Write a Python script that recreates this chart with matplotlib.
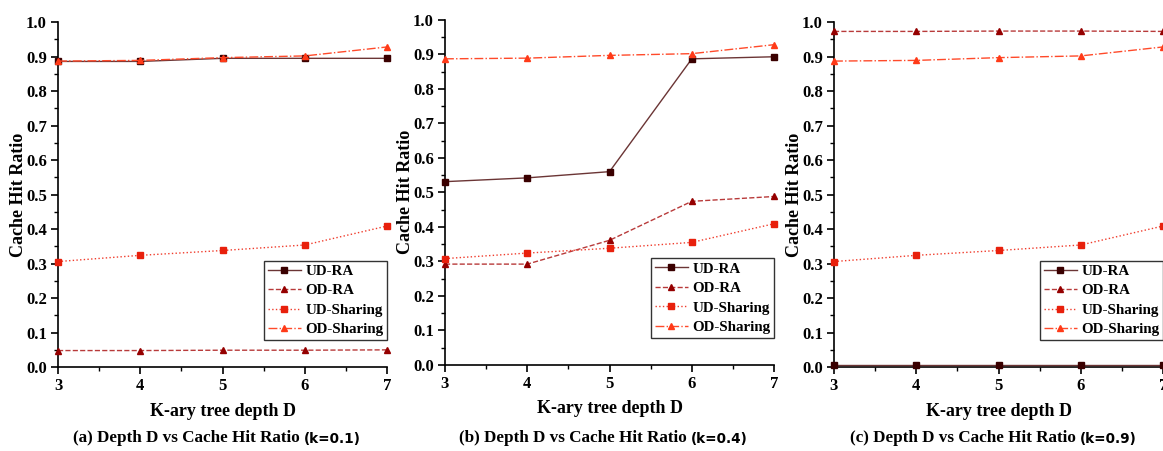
import matplotlib
matplotlib.use('Agg')
import matplotlib.pyplot as plt
from matplotlib.ticker import MultipleLocator

plt.rcParams['font.family'] = ['Liberation Serif', 'DejaVu Serif']
plt.rcParams['font.weight'] = 'bold'

depth = [3, 4, 5, 6, 7]

# panel (a) k=0.1
ud_ra_a = [0.886, 0.886, 0.895, 0.895, 0.895]
od_ra_a = [0.048, 0.048, 0.049, 0.049, 0.050]
ud_sh_a = [0.306, 0.324, 0.338, 0.354, 0.409]
od_sh_a = [0.887, 0.889, 0.897, 0.902, 0.928]

# panel (b) k=0.4
ud_ra_b = [0.531, 0.542, 0.560, 0.887, 0.893]
od_ra_b = [0.292, 0.292, 0.361, 0.474, 0.488]
ud_sh_b = [0.308, 0.324, 0.338, 0.355, 0.409]
od_sh_b = [0.887, 0.889, 0.897, 0.902, 0.928]

# panel (c) k=0.9
ud_ra_c = [0.007, 0.007, 0.007, 0.007, 0.007]
od_ra_c = [0.973, 0.973, 0.974, 0.974, 0.973]
ud_sh_c = [0.306, 0.324, 0.338, 0.354, 0.409]
od_sh_c = [0.887, 0.889, 0.897, 0.902, 0.928]

series_names = ['UD-RA', 'OD-RA', 'UD-Sharing', 'OD-Sharing']
captions = ['(a) Depth D vs Cache Hit Ratio', '(b) Depth D vs Cache Hit Ratio',
            '(c) Depth D vs Cache Hit Ratio']
k_labels = ['(k=0.1)', '(k=0.4)', '(k=0.9)']

panels = [
    [ud_ra_a, od_ra_a, ud_sh_a, od_sh_a],
    [ud_ra_b, od_ra_b, ud_sh_b, od_sh_b],
    [ud_ra_c, od_ra_c, ud_sh_c, od_sh_c],
]

styles = [
    dict(color='#6b3535', ls='-', marker='s', mfc='#3a0000', mec='#3a0000'),
    dict(color='#b83a3a', ls='--', marker='^', mfc='#950000', mec='#950000'),
    dict(color='#f03c2c', ls=':', marker='s', mfc='#e8200c', mec='#e8200c'),
    dict(color='#ff4a2a', ls='-.', marker='^', mfc='#ff3a18', mec='#ff3a18'),
]

fig = plt.figure(figsize=(11.63, 4.51), dpi=100)
rects = [
    [0.0499, 0.186, 0.283, 0.765],
    [0.3826, 0.191, 0.283, 0.765],
    [0.7171, 0.186, 0.283, 0.765],
]

for i, data in enumerate(panels):
    ax = fig.add_axes(rects[i])
    for name, vals, st in zip(series_names, data, styles):
        ax.plot(depth, vals, label=name, color=st['color'], linestyle=st['ls'],
                linewidth=1.0, marker=st['marker'], markersize=4.8,
                markerfacecolor=st['mfc'], markeredgecolor=st['mec'], clip_on=False,
                zorder=3)
    ax.set_xlim(3, 7)
    ax.set_ylim(0, 1.0)
    ax.xaxis.set_major_locator(MultipleLocator(1))
    ax.xaxis.set_minor_locator(MultipleLocator(0.5))
    ax.yaxis.set_major_locator(MultipleLocator(0.1))
    ax.yaxis.set_minor_locator(MultipleLocator(0.05))
    ax.yaxis.set_major_formatter(plt.FormatStrFormatter('%.1f'))
    ax.spines['top'].set_visible(False)
    ax.spines['right'].set_visible(False)
    ax.spines['left'].set_linewidth(1.2)
    ax.spines['bottom'].set_linewidth(1.2)
    ax.tick_params(axis='both', which='major', direction='out', length=5, width=1.2,
                   labelsize=12, pad=3)
    ax.tick_params(axis='both', which='minor', direction='out', length=3, width=1.0)
    for lab in ax.get_xticklabels() + ax.get_yticklabels():
        lab.set_fontweight('bold')
    ax.set_xlabel('K-ary tree depth D', fontsize=13, fontweight='bold', labelpad=6)
    ax.set_ylabel('Cache Hit Ratio', fontsize=13, fontweight='bold')
    ax.yaxis.set_label_coords(-0.095, 0.5)
    leg = ax.legend(loc='lower right', bbox_to_anchor=(1.0, 0.078), fontsize=10.8,
                    frameon=True, fancybox=False, edgecolor='black',
                    handlelength=2.2, borderpad=0.25, labelspacing=0.4,
                    handletextpad=0.3, borderaxespad=0.0)
    leg.get_frame().set_linewidth(1.0)
    for t in leg.get_texts():
        t.set_fontweight('bold')
    cx = rects[i][0] + rects[i][2] / 2 + 0.07
    fig.text(cx, 0.012, captions[i] + ' ', ha='right', va='bottom',
             fontsize=12.3, fontweight='bold')
    fig.text(cx, 0.012, k_labels[i], ha='left', va='bottom', fontsize=9.8,
             family='DejaVu Sans')

fig.savefig('out.png', dpi=100)
